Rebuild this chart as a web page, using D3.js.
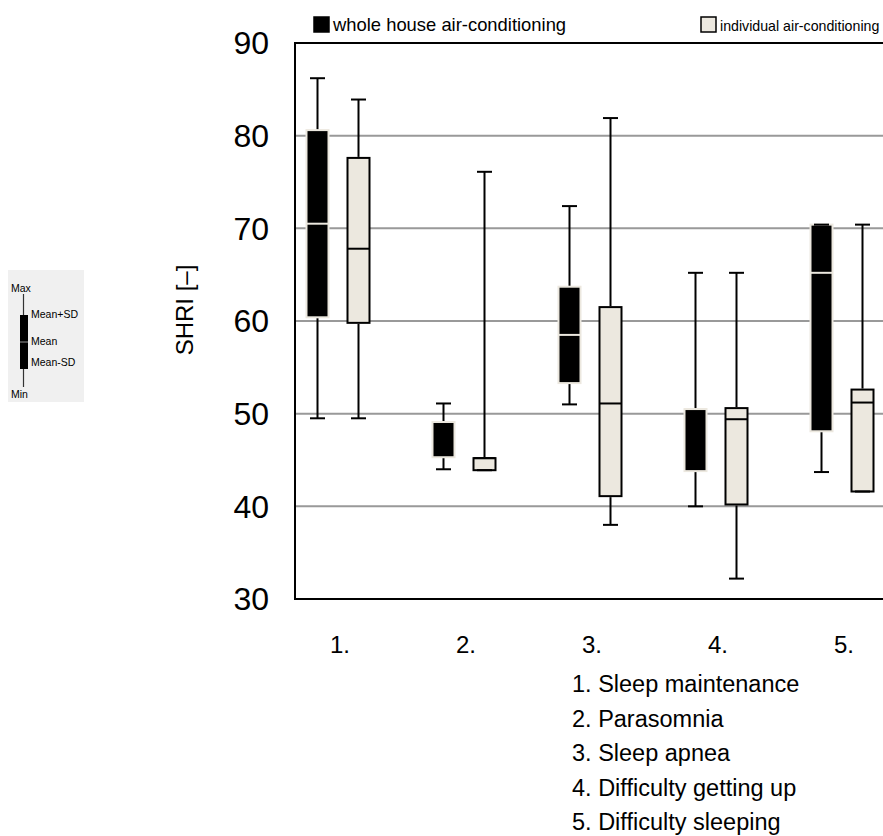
<!DOCTYPE html>
<html>
<head>
<meta charset="utf-8">
<script src="https://cdn.jsdelivr.net/npm/d3@7"></script>
<style>
  html, body { margin: 0; padding: 0; background: #fff; }
  svg { display: block; font-family: "Liberation Sans", Arial, sans-serif; }
</style>
</head>
<body>
<svg id="chart" width="883" height="836"></svg>
<script>
// Categories and their descriptions
const categories = ["1.", "2.", "3.", "4.", "5."];
const categoryNames = ["1. Sleep maintenance", "2. Parasomnia", "3. Sleep apnea",
                       "4. Difficulty getting up", "5. Difficulty sleeping"];
const seriesNames = ["whole house air-conditioning", "individual air-conditioning"];
const yTicks = [30, 40, 50, 60, 70, 80, 90];

// whole house air-conditioning: Max, Mean+SD, Mean, Mean-SD, Min
const wholeMax   = [86.2, 51.1, 72.4, 65.2, 70.4];
const wholeUpper = [80.6, 49.1, 63.7, 50.5, 70.4];
const wholeMean  = [70.5, 49.1, 58.5, 50.5, 65.2];
const wholeLower = [60.4, 45.3, 53.3, 43.8, 48.1];
const wholeMin   = [49.5, 44.0, 51.0, 40.0, 43.7];

// individual air-conditioning: Max, Mean+SD, Mean, Mean-SD, Min
const indivMax   = [83.9, 76.1, 81.9, 65.2, 70.4];
const indivUpper = [77.6, 45.2, 61.5, 50.6, 52.6];
const indivMean  = [67.8, 45.2, 51.1, 49.4, 51.2];
const indivLower = [59.8, 43.9, 41.1, 40.2, 41.6];
const indivMin   = [49.5, 43.9, 38.0, 32.2, 41.6];

const LIGHT = "#ece8df";
const BOX_W = 22;

const rows = [];
categories.forEach((c, i) => {
  rows.push({cat: c, series: seriesNames[0], max: wholeMax[i], upper: wholeUpper[i],
             mean: wholeMean[i], lower: wholeLower[i], min: wholeMin[i]});
  rows.push({cat: c, series: seriesNames[1], max: indivMax[i], upper: indivUpper[i],
             mean: indivMean[i], lower: indivLower[i], min: indivMin[i]});
});

const svg = d3.select("#chart");
const plotLeft = 295, plotRight = 900, plotTop = 43, plotBottom = 599;

const y = d3.scaleLinear().domain([30, 90]).range([plotBottom, plotTop]);
const x = d3.scalePoint().domain(categories).range([338, 842]);
const xs = d3.scalePoint().domain(seriesNames).range([-20.5, 20.5]);
const fillOf = d3.scaleOrdinal().domain(seriesNames).range(["#000", LIGHT]);
const edgeOf = d3.scaleOrdinal().domain(seriesNames).range([LIGHT, "#000"]);

// Grid lines
svg.append("g").selectAll("line")
  .data(yTicks.filter(t => t > 30 && t < 90))
  .join("line")
  .attr("x1", plotLeft).attr("x2", plotRight)
  .attr("y1", d => y(d)).attr("y2", d => y(d))
  .attr("stroke", "#999").attr("stroke-width", 2);

// Y axis tick labels
svg.append("g").selectAll("text")
  .data(yTicks)
  .join("text")
  .attr("x", 269).attr("y", d => y(d))
  .attr("dy", "0.35em")
  .attr("text-anchor", "end")
  .attr("font-size", 32)
  .attr("fill", "#000")
  .text(d => d);

// Plot frame
svg.append("path")
  .attr("d", `M${plotRight},${plotTop}H${plotLeft}V${plotBottom}H${plotRight}`)
  .attr("fill", "none").attr("stroke", "#000").attr("stroke-width", 2);

// X tick labels
svg.append("g").selectAll("text")
  .data(categories)
  .join("text")
  .attr("x", d => x(d) + 2).attr("y", 645)
  .attr("dy", "0.35em")
  .attr("text-anchor", "middle")
  .attr("font-size", 24)
  .text(d => d);

// Y axis title
svg.append("text")
  .attr("transform", "translate(193,310) rotate(-90)")
  .attr("text-anchor", "middle")
  .attr("font-size", 24)
  .text("SHRI [–]");

// Boxes
const g = svg.append("g");
const cx = d => x(d.cat) + xs(d.series);

g.selectAll("rect.box")
  .data(rows)
  .join("rect")
  .attr("class", "box")
  .attr("x", d => cx(d) - BOX_W / 2)
  .attr("y", d => y(d.upper))
  .attr("width", BOX_W)
  .attr("height", d => y(d.lower) - y(d.upper))
  .attr("fill", d => fillOf(d.series))
  .attr("stroke", d => edgeOf(d.series))
  .attr("stroke-width", 2);

g.selectAll("line.mean")
  .data(rows)
  .join("line")
  .attr("class", "mean")
  .attr("x1", d => cx(d) - BOX_W / 2).attr("x2", d => cx(d) + BOX_W / 2)
  .attr("y1", d => y(d.mean)).attr("y2", d => y(d.mean))
  .attr("stroke", d => edgeOf(d.series))
  .attr("stroke-width", 2);

// Whiskers (outside the box) and caps
g.selectAll("line.wtop")
  .data(rows.filter(d => d.max > d.upper))
  .join("line")
  .attr("x1", cx).attr("x2", cx)
  .attr("y1", d => y(d.max)).attr("y2", d => y(d.upper) - 1)
  .attr("stroke", "#000").attr("stroke-width", 2);

g.selectAll("line.wbot")
  .data(rows.filter(d => d.min < d.lower))
  .join("line")
  .attr("x1", cx).attr("x2", cx)
  .attr("y1", d => y(d.lower) + 1).attr("y2", d => y(d.min))
  .attr("stroke", "#000").attr("stroke-width", 2);

const caps = rows.flatMap(d => [{d, v: d.max}, {d, v: d.min}]);
g.selectAll("line.cap")
  .data(caps)
  .join("line")
  .attr("x1", c => cx(c.d) - 7.5).attr("x2", c => cx(c.d) + 7.5)
  .attr("y1", c => y(c.v)).attr("y2", c => y(c.v))
  .attr("stroke", "#000").attr("stroke-width", 2);

// Top legend
const legend = svg.append("g");
const legX = [313, 700];
const legFont = [18.4, 14.2];
seriesNames.forEach((s, i) => {
  legend.append("rect")
    .attr("x", legX[i] + 1).attr("y", 17)
    .attr("width", 15).attr("height", 15)
    .attr("fill", fillOf(s))
    .attr("stroke", "#000").attr("stroke-width", 1.5);
  legend.append("text")
    .attr("x", legX[i] + 20).attr("y", 31)
    .attr("font-size", legFont[i])
    .text(s);
});

// Category descriptions
svg.append("g").selectAll("text")
  .data(categoryNames)
  .join("text")
  .attr("x", 572)
  .attr("y", (d, i) => 684 + i * 34.5)
  .attr("dy", "0.35em")
  .attr("font-size", 23.5)
  .text(d => d);

// Key explaining the box elements
const key = svg.append("g").attr("font-size", 10.5).attr("fill", "#000");
key.append("rect").attr("x", 8).attr("y", 270).attr("width", 76).attr("height", 132)
  .attr("fill", "#f0f0f0");
key.append("line").attr("x1", 23.5).attr("x2", 23.5).attr("y1", 294).attr("y2", 387)
  .attr("stroke", "#333").attr("stroke-width", 1.2);
key.append("rect").attr("x", 20).attr("y", 315).attr("width", 8).attr("height", 54)
  .attr("fill", "#000");
key.append("line").attr("x1", 20).attr("x2", 28).attr("y1", 342).attr("y2", 342)
  .attr("stroke", "#999").attr("stroke-width", 1);
key.append("text").attr("x", 11).attr("y", 292).text("Max");
key.append("text").attr("x", 31).attr("y", 318).text("Mean+SD");
key.append("text").attr("x", 31).attr("y", 345).text("Mean");
key.append("text").attr("x", 31).attr("y", 366).text("Mean-SD");
key.append("text").attr("x", 11).attr("y", 398).text("Min");
</script>
</body>
</html>
